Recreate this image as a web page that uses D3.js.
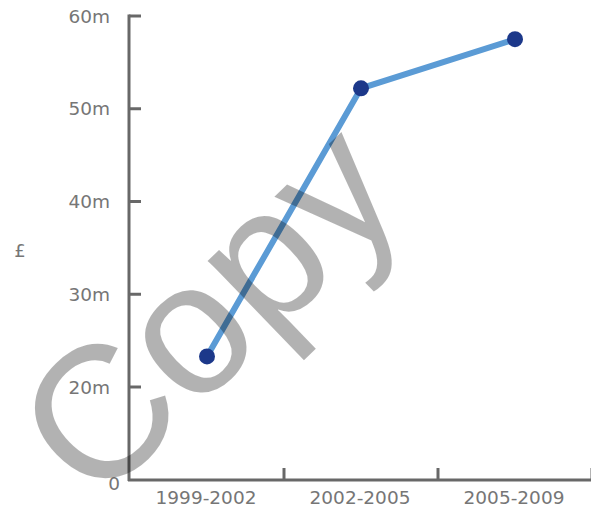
<!DOCTYPE html>
<html>
<head>
<meta charset="utf-8">
<script src="https://cdn.jsdelivr.net/npm/d3@7"></script>
<style>
  body { margin: 0; background: #fff; }
  svg { display: block; }
</style>
</head>
<body>
<div id="chart"></div>
<script>
const width = 591;
const height = 510;

// data
const periods = ["1999-2002", "2002-2005", "2005-2009"];
const amounts = [23.3, 52.2, 57.5]; // £m
const yTicks = [0, 20, 30, 40, 50, 60];

const axisColor = "#686868";
const textColor = "#767676";

const svg = d3.select("#chart").append("svg")
    .attr("width", width)
    .attr("height", height)
    .style("font-family", "'DejaVu Sans', Verdana, sans-serif");

// y axis is broken between 0 and 20m, so use a piecewise scale
const y = d3.scaleLinear()
    .domain([0, 20, 60])
    .range([481, 387, 16]);

const x = d3.scaleBand()
    .domain(periods)
    .range([130, 592])
    .padding(0);

// y axis line + inward ticks
svg.append("line")
    .attr("x1", 129).attr("x2", 129)
    .attr("y1", y(60) - 1.5).attr("y2", y(0))
    .attr("stroke", axisColor).attr("stroke-width", 3);

svg.append("g")
    .selectAll("line")
    .data(yTicks.filter(d => d > 0))
    .join("line")
    .attr("x1", 129).attr("x2", 141)
    .attr("y1", d => y(d)).attr("y2", d => y(d))
    .attr("stroke", axisColor).attr("stroke-width", 3);

svg.append("g")
    .attr("fill", textColor)
    .attr("text-anchor", "end")
    .style("font-size", "18.5px")
    .selectAll("text")
    .data(yTicks)
    .join("text")
    .attr("x", d => d === 0 ? 120 : 110)
    .attr("y", d => y(d) + (d === 0 ? 2 : 0))
    .attr("dy", "0.36em")
    .text(d => d === 0 ? "0" : d + "m");

svg.append("text")
    .attr("x", 20).attr("y", 251)
    .attr("text-anchor", "middle")
    .attr("dy", "0.36em")
    .attr("fill", textColor)
    .style("font-size", "18px")
    .text("£");

// x axis line + upward ticks at band edges
svg.append("line")
    .attr("x1", 128).attr("x2", 591)
    .attr("y1", 480).attr("y2", 480)
    .attr("stroke", axisColor).attr("stroke-width", 3);

svg.append("g")
    .selectAll("line")
    .data(periods)
    .join("line")
    .attr("x1", d => x(d) + x.bandwidth()).attr("x2", d => x(d) + x.bandwidth())
    .attr("y1", 480).attr("y2", 468)
    .attr("stroke", axisColor).attr("stroke-width", 3);

svg.append("g")
    .attr("fill", textColor)
    .attr("text-anchor", "middle")
    .style("font-size", "18.5px")
    .selectAll("text")
    .data(periods)
    .join("text")
    .attr("x", d => x(d) + x.bandwidth() / 2 - 1)
    .attr("y", 497)
    .attr("dy", "0.36em")
    .text(d => d);

// line + dots
const pts = periods.map((p, i) => [x(p) + x.bandwidth() / 2, y(amounts[i])]);

svg.append("path")
    .datum(pts)
    .attr("fill", "none")
    .attr("stroke", "#5b9bd5")
    .attr("stroke-width", 6)
    .attr("d", d3.line());

svg.append("g")
    .attr("fill", "#1c388a")
    .selectAll("circle")
    .data(pts)
    .join("circle")
    .attr("cx", d => d[0])
    .attr("cy", d => d[1])
    .attr("r", 8);

// watermark
svg.append("text")
    .attr("transform", "translate(95,508) rotate(-44)")
    .attr("fill", "#000")
    .attr("fill-opacity", 0.3)
    .style("font-family", "'Liberation Sans', Arial, sans-serif")
    .style("font-size", "188px")
    .text("Copy");
</script>
</body>
</html>
